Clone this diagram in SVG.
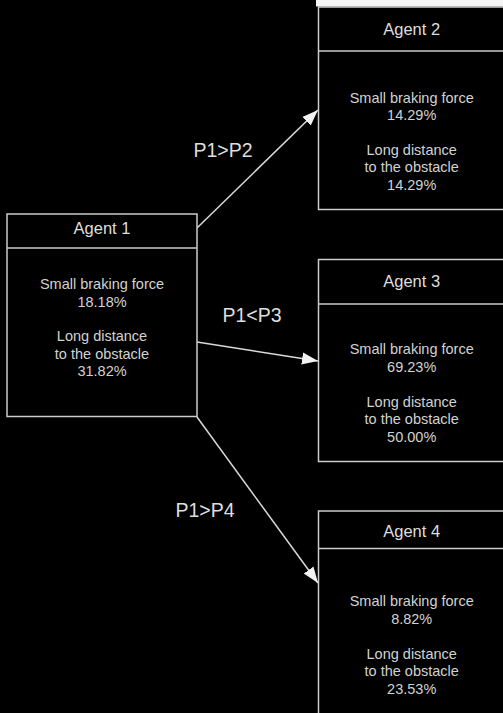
<svg xmlns="http://www.w3.org/2000/svg" width="503" height="713" viewBox="0 0 503 713">
<style>
.box{fill:#000;stroke:#cccccc;stroke-width:1.5}
.div{stroke:#cccccc;stroke-width:1.5}
.title{font-family:"Liberation Sans",Arial,sans-serif;font-size:16.5px;fill:#dedede;text-anchor:middle}
.body{font-family:"Liberation Sans",Arial,sans-serif;font-size:14.5px;fill:#d2d2d2;text-anchor:middle}
.lbl{font-family:"Liberation Sans",Arial,sans-serif;font-size:19.5px;fill:#dedede;text-anchor:middle}
.edge{stroke:#dadada;stroke-width:1.5;fill:none}
</style>
<defs>
<marker id="ah" markerUnits="userSpaceOnUse" markerWidth="17" markerHeight="14" refX="16" refY="7" orient="auto">
<path d="M0,1 L16,7 L0,13 z" fill="#f2f2f2"/>
</marker>
</defs>
<rect x="0" y="0" width="503" height="713" fill="#000"/>
<rect x="316" y="0" width="187" height="6.5" fill="#f4f4f4"/>
<g id="connectors">
<line class="edge" x1="197" y1="228" x2="318" y2="110" marker-end="url(#ah)"/>
<line class="edge" x1="197" y1="342" x2="318" y2="361" marker-end="url(#ah)"/>
<line class="edge" x1="197" y1="417" x2="318" y2="583" marker-end="url(#ah)"/>
<text class="lbl" x="223" y="157">P1&gt;P2</text>
<text class="lbl" x="252" y="322">P1&lt;P3</text>
<text class="lbl" x="205" y="517">P1&gt;P4</text>
</g>
<g id="agent1">
<rect class="box" x="7" y="214" width="190" height="202.5"/>
<line class="div" x1="7" y1="248" x2="197" y2="248"/>
<text class="title" x="102" y="233.5">Agent 1</text>
<text class="body" x="102" y="289">Small braking force</text>
<text class="body" x="102" y="306.5">18.18%</text>
<text class="body" x="102" y="341">Long distance</text>
<text class="body" x="102" y="358.5">to the obstacle</text>
<text class="body" x="102" y="376">31.82%</text>
</g>
<g id="agent2">
<rect class="box" x="318.5" y="7" width="200" height="202.5"/>
<line class="div" x1="318.5" y1="51" x2="503" y2="51"/>
<text class="title" x="411.7" y="34.5">Agent 2</text>
<text class="body" x="411.7" y="102.5">Small braking force</text>
<text class="body" x="411.7" y="120">14.29%</text>
<text class="body" x="411.7" y="155">Long distance</text>
<text class="body" x="411.7" y="172">to the obstacle</text>
<text class="body" x="411.7" y="189.5">14.29%</text>
</g>
<g id="agent3">
<rect class="box" x="318.5" y="259.5" width="200" height="202"/>
<line class="div" x1="318.5" y1="304" x2="503" y2="304"/>
<text class="title" x="411.7" y="287">Agent 3</text>
<text class="body" x="411.7" y="354">Small braking force</text>
<text class="body" x="411.7" y="371.5">69.23%</text>
<text class="body" x="411.7" y="406.5">Long distance</text>
<text class="body" x="411.7" y="424">to the obstacle</text>
<text class="body" x="411.7" y="441.5">50.00%</text>
</g>
<g id="agent4">
<rect class="box" x="318.5" y="511" width="200" height="220"/>
<line class="div" x1="318.5" y1="548.5" x2="503" y2="548.5"/>
<text class="title" x="411.7" y="537">Agent 4</text>
<text class="body" x="411.7" y="606">Small braking force</text>
<text class="body" x="411.7" y="623.5">8.82%</text>
<text class="body" x="411.7" y="658.5">Long distance</text>
<text class="body" x="411.7" y="676">to the obstacle</text>
<text class="body" x="411.7" y="693.5">23.53%</text>
</g>
</svg>
